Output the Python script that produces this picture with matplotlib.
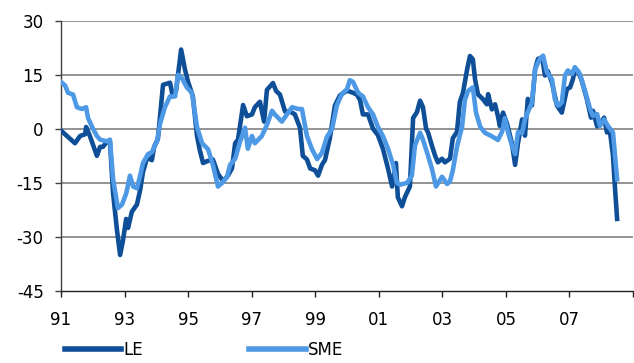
import matplotlib
matplotlib.use('Agg')
import matplotlib.pyplot as plt
from matplotlib.lines import Line2D

# LE / SME-Indikator, Zeitpunkte als Dezimaljahre
le_t = [1991.00, 1991.44, 1991.60, 1991.76, 1991.79, 1991.91, 1992.13, 1992.23, 1992.32, 1992.45,
        1992.54, 1992.64, 1992.76, 1992.86, 1992.95, 1993.05, 1993.11, 1993.23, 1993.39, 1993.49,
        1993.58, 1993.71, 1993.86, 1993.93, 1994.05, 1994.21, 1994.43, 1994.52, 1994.62, 1994.78,
        1994.90, 1995.00, 1995.15, 1995.28, 1995.37, 1995.47, 1995.59, 1995.78, 1995.94, 1996.10,
        1996.25, 1996.38, 1996.48, 1996.57, 1996.73, 1996.85, 1997.01, 1997.10, 1997.26, 1997.39,
        1997.48, 1997.67, 1997.77, 1997.89, 1998.05, 1998.21, 1998.36, 1998.52, 1998.61, 1998.74,
        1998.84, 1998.99, 1999.09, 1999.21, 1999.31, 1999.46, 1999.62, 1999.78, 2000.00, 2000.19,
        2000.31, 2000.41, 2000.50, 2000.66, 2000.82, 2000.97, 2001.13, 2001.29, 2001.42, 2001.54,
        2001.60, 2001.73, 2001.82, 2001.98, 2002.08, 2002.20, 2002.30, 2002.39, 2002.49, 2002.55,
        2002.67, 2002.77, 2002.86, 2002.99, 2003.08, 2003.24, 2003.33, 2003.46, 2003.55, 2003.65,
        2003.78, 2003.87, 2003.96, 2004.03, 2004.12, 2004.28, 2004.40, 2004.44, 2004.56, 2004.66,
        2004.75, 2004.81, 2004.91, 2005.03, 2005.19, 2005.29, 2005.38, 2005.51, 2005.60, 2005.69,
        2005.82, 2005.92, 2006.01, 2006.14, 2006.23, 2006.32, 2006.45, 2006.61, 2006.76, 2006.92,
        2007.02, 2007.11, 2007.17, 2007.27, 2007.39, 2007.55, 2007.68, 2007.74, 2007.87, 2007.96,
        2008.09, 2008.18, 2008.27, 2008.37, 2008.43, 2008.50]
le_v = [-0.5, -4, -2, -1.5, 0.5, -2, -7.5, -5, -5, -3.5,
        -3.5, -18, -28, -35, -31, -25, -27.5, -23, -21, -17,
        -12, -8, -8.7, -5, -2.8, 12.2, 12.8, 9, 10.5, 22,
        16.5, 13, 9, -2, -6, -9.5, -9, -8.5, -12.5, -14.5,
        -13, -11, -4, -3, 6.6, 3.5, 4, 6, 7.5, 2,
        10.8, 12.7, 10.5, 9.5, 4.8, 4.8, 4, 0.3, -7.5, -8.5,
        -11, -11.5, -13, -10, -8.6, -2.6, 6.5, 9.3, 10.6, 10,
        9.5, 8, 4, 4, 0, -1.7, -5.5, -11, -16, -9.5,
        -19, -21.5, -19, -16, 3, 4.6, 7.8, 6, 0, -1,
        -4.6, -7.4, -9.3, -8.3, -9.3, -8.3, -2.6, -0.9, 7.4, 10,
        16.5, 20.2, 19.3, 13.7, 9.6, 8.2, 6.8, 9.6, 5.4, 6.8,
        3.5, 0.8, 4.5, 1.6, -4, -10, -4, 2.6, -1.9, 8.3,
        6.5, 16.6, 19.4, 19.8, 14.8, 16, 12.8, 6.4, 4.5, 11,
        11.5, 13.8, 16.6, 16, 13.3, 8.2, 3.1, 5, 0.7, 1.2,
        3.1, -1, -0.4, -7.4, -16, -25]

sme_t = [1991.00, 1991.13, 1991.22, 1991.38, 1991.50, 1991.66, 1991.79, 1991.85, 1991.98, 1992.13,
         1992.23, 1992.45, 1992.54, 1992.64, 1992.79, 1992.92, 1993.05, 1993.17, 1993.27, 1993.39,
         1993.49, 1993.58, 1993.74, 1993.86, 1994.02, 1994.12, 1994.27, 1994.43, 1994.59, 1994.68,
         1994.81, 1994.96, 1995.12, 1995.28, 1995.44, 1995.63, 1995.78, 1995.94, 1996.07, 1996.22,
         1996.32, 1996.48, 1996.63, 1996.79, 1996.88, 1997.01, 1997.10, 1997.32, 1997.48, 1997.64,
         1997.73, 1997.95, 1998.11, 1998.27, 1998.46, 1998.58, 1998.74, 1998.90, 1999.06, 1999.21,
         1999.37, 1999.53, 1999.68, 1999.84, 2000.00, 2000.09, 2000.19, 2000.35, 2000.50, 2000.66,
         2000.82, 2000.97, 2001.13, 2001.29, 2001.45, 2001.57, 2001.67, 2001.89, 2002.04, 2002.14,
         2002.30, 2002.39, 2002.52, 2002.67, 2002.80, 2002.99, 2003.15, 2003.24, 2003.33, 2003.46,
         2003.62, 2003.71, 2003.81, 2003.96, 2004.06, 2004.19, 2004.34, 2004.50, 2004.66, 2004.75,
         2004.88, 2004.97, 2005.07, 2005.19, 2005.29, 2005.38, 2005.51, 2005.60, 2005.69, 2005.82,
         2005.92, 2006.07, 2006.17, 2006.29, 2006.45, 2006.54, 2006.64, 2006.76, 2006.86, 2006.95,
         2007.08, 2007.17, 2007.33, 2007.49, 2007.65, 2007.74, 2007.87, 2007.96, 2008.09, 2008.21,
         2008.37, 2008.50]
sme_v = [13, 12, 10, 9.5, 6, 5.5, 6, 3, 0.5, -2,
         -3, -3.5, -3, -14, -22, -21, -18, -13, -16, -16.5,
         -13, -9.5, -7, -6.5, -3.5, 1.5, 6, 9, 9, 15,
         14, 11.5, 10, 0.5, -4, -5.7, -10, -16, -15, -13.4,
         -10, -8.3, -3.7, 0.3, -5.5, -2, -4, -2, 1.1, 5,
         4, 2, 4, 6, 5.5, 5.5, -2, -5.7, -8.4, -6.7,
         -2.2, 0, 6.5, 9.7, 11, 13.5, 13, 10, 9, 6,
         4, 0.6, -2, -5.5, -10, -15, -15.5, -15, -13, -4.6,
         -1.1, -3, -6.6, -11, -16, -13.3, -15.3, -14.6, -11.5, -5,
         0.6, 8, 10.5, 11.5, 4.5, 0.6, -1.1, -1.8, -2.6, -3.1,
         -0.8, 3, -1.1, -4.6, -7, -0.9, -1.1, 2.6, 4.6, 7.3,
         16.6, 19.4, 20.3, 15.7, 13.8, 8.3, 6.4, 7.3, 14.8, 16.2,
         15.2, 17.1, 15.2, 10.5, 5.5, 3.6, 4.1, 0.8, 2.6, 0.8,
         -1, -14]

year_ticks = list(range(1991, 2010, 2))
year_labels = ['91', '93', '95', '97', '99', '01', '03', '05', '07', '']
y_ticks = [-45, -30, -15, 0, 15, 30]

C_LE = '#0f4f98'
C_SME = '#4d99e6'

plt.rcParams['font.family'] = ['DejaVu Sans']
fig = plt.figure(figsize=(6.34, 3.63), dpi=100)
ax = fig.add_axes([61 / 634, 1 - 291 / 363, 572 / 634, (291 - 20.7) / 363])

ax.plot(le_t, le_v, color=C_LE, lw=3.3, solid_joinstyle='round', zorder=3)
ax.plot(sme_t, sme_v, color=C_SME, lw=3.3, solid_joinstyle='round', zorder=4)

ax.set_xlim(1991, 2009)
ax.set_ylim(-45, 30)
ax.set_xticks(year_ticks)
ax.set_xticklabels(year_labels)
ax.set_yticks(y_ticks)
ax.set_yticklabels([str(v) for v in y_ticks])
for v in y_ticks[1:]:
    ax.axhline(v, color='#808080', lw=1.2, zorder=1)

for s in ('top', 'right'):
    ax.spines[s].set_visible(False)
ax.spines['left'].set_color('#404040')
ax.spines['bottom'].set_color('#202020')
ax.spines['left'].set_linewidth(1.0)
ax.spines['bottom'].set_linewidth(1.0)
ax.tick_params(axis='y', length=4.5, width=1.0, color='#404040', pad=8, labelsize=12)
ax.tick_params(axis='x', length=4.5, width=1.0, color='#202020', pad=10, labelsize=12)

handles = [Line2D([], [], color=C_LE, lw=4), Line2D([], [], color=C_SME, lw=4)]
fig.legend(handles, ['LE', 'SME'], loc='lower left', bbox_to_anchor=(53 / 634, -0.02),
           ncol=2, frameon=False, fontsize=12, handlelength=3.4, handletextpad=0.1,
           columnspacing=6.4, borderpad=0.2)

fig.savefig('out.png', dpi=100)
